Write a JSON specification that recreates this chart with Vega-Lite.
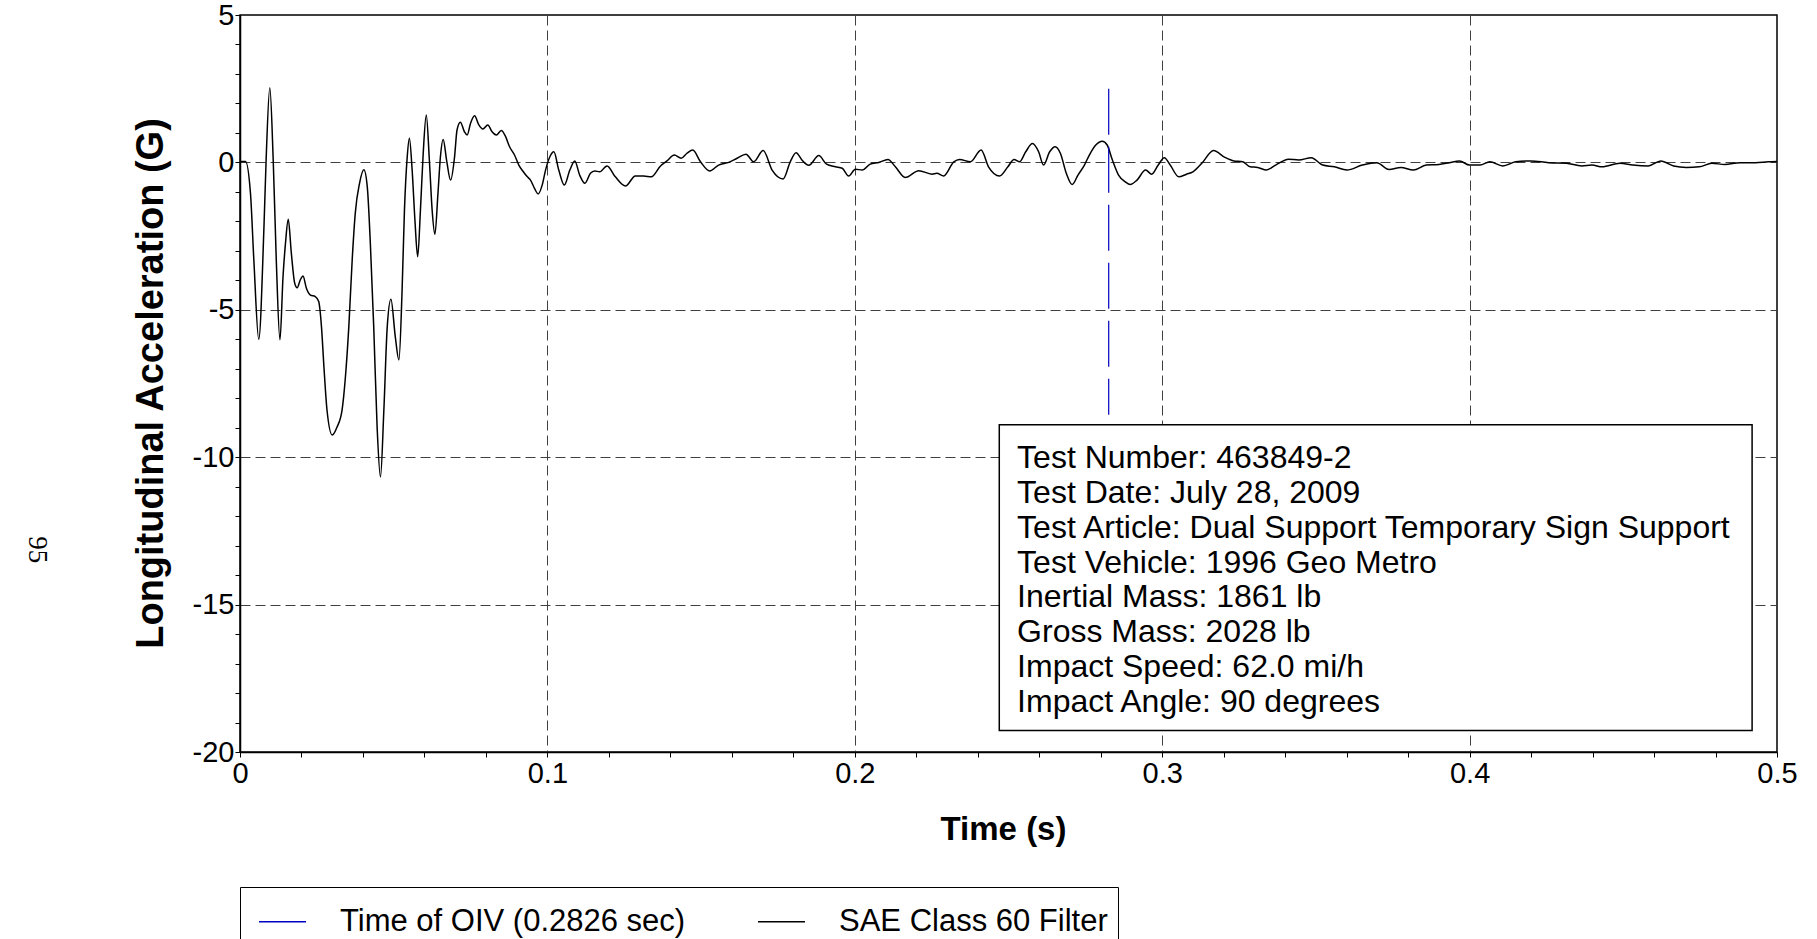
{
  "$schema": "https://vega.github.io/schema/vega-lite/v6.json",
  "width": 1537,
  "height": 737,
  "autosize": {"type": "none"},
  "padding": {"left": 240, "top": 15, "right": 40, "bottom": 187},
  "background": "white",
  "config": {
    "font": "Liberation Sans",
    "view": {"stroke": "black", "strokeWidth": 1.5},
    "axis": {"labelOverlap": false}
  },
  "datasets": {
    "accel": [
      {"t": 0, "g": 0.03}, {"t": 0.0018, "g": 0.03}, {"t": 0.0034, "g": -1.04}, {"t": 0.0045, "g": -3.3},
      {"t": 0.0061, "g": -6.0}, {"t": 0.0078, "g": -2.17}, {"t": 0.0085, "g": 0.09}, {"t": 0.0097, "g": 2.53},
      {"t": 0.0108, "g": 0.09}, {"t": 0.0118, "g": -3.3}, {"t": 0.013, "g": -6.02}, {"t": 0.014, "g": -3.87},
      {"t": 0.0148, "g": -2.74}, {"t": 0.0157, "g": -1.93}, {"t": 0.0167, "g": -3.08}, {"t": 0.0178, "g": -4.1},
      {"t": 0.0186, "g": -4.25}, {"t": 0.0196, "g": -3.99}, {"t": 0.0205, "g": -3.85}, {"t": 0.0216, "g": -4.27},
      {"t": 0.0229, "g": -4.5}, {"t": 0.0245, "g": -4.55}, {"t": 0.0256, "g": -4.72}, {"t": 0.0265, "g": -5.57},
      {"t": 0.0273, "g": -6.93}, {"t": 0.0283, "g": -8.4}, {"t": 0.03, "g": -9.25}, {"t": 0.0316, "g": -8.97},
      {"t": 0.0332, "g": -8.4}, {"t": 0.0343, "g": -7.27}, {"t": 0.0354, "g": -5.57}, {"t": 0.0365, "g": -3.3},
      {"t": 0.0375, "g": -1.72}, {"t": 0.0389, "g": -0.7}, {"t": 0.0403, "g": -0.25}, {"t": 0.0414, "g": -0.82},
      {"t": 0.0424, "g": -2.74}, {"t": 0.0435, "g": -5.57}, {"t": 0.0446, "g": -8.97}, {"t": 0.0457, "g": -10.67},
      {"t": 0.0468, "g": -8.4}, {"t": 0.0479, "g": -5.57}, {"t": 0.0491, "g": -4.64}, {"t": 0.0505, "g": -5.9},
      {"t": 0.0517, "g": -6.7}, {"t": 0.0527, "g": -4.44}, {"t": 0.0535, "g": -1.61}, {"t": 0.0544, "g": 0.19},
      {"t": 0.0551, "g": 0.82}, {"t": 0.056, "g": -0.26}, {"t": 0.0569, "g": -1.95}, {"t": 0.0578, "g": -3.2},
      {"t": 0.0587, "g": -1.61}, {"t": 0.0596, "g": 0.31}, {"t": 0.0606, "g": 1.61}, {"t": 0.0616, "g": 0.08},
      {"t": 0.0625, "g": -1.61}, {"t": 0.0634, "g": -2.44}, {"t": 0.0644, "g": -1.05}, {"t": 0.0652, "g": 0.19},
      {"t": 0.0661, "g": 0.78}, {"t": 0.0672, "g": 0.08}, {"t": 0.0685, "g": -0.6}, {"t": 0.0698, "g": 0.19},
      {"t": 0.0706, "g": 1.1}, {"t": 0.0717, "g": 1.36}, {"t": 0.073, "g": 1.04}, {"t": 0.0739, "g": 0.93},
      {"t": 0.075, "g": 1.33}, {"t": 0.0763, "g": 1.58}, {"t": 0.0777, "g": 1.27}, {"t": 0.079, "g": 1.13},
      {"t": 0.0806, "g": 1.27}, {"t": 0.082, "g": 1.04}, {"t": 0.0834, "g": 0.93}, {"t": 0.085, "g": 1.08},
      {"t": 0.0863, "g": 0.9}, {"t": 0.0877, "g": 0.53}, {"t": 0.0893, "g": 0.25}, {"t": 0.0907, "g": -0.09},
      {"t": 0.0921, "g": -0.31}, {"t": 0.0934, "g": -0.48}, {"t": 0.0945, "g": -0.6}, {"t": 0.0958, "g": -0.88},
      {"t": 0.097, "g": -1.07}, {"t": 0.0983, "g": -0.77}, {"t": 0.0994, "g": -0.26}, {"t": 0.1008, "g": 0.19},
      {"t": 0.1021, "g": 0.36}, {"t": 0.1037, "g": -0.26}, {"t": 0.1055, "g": -0.77}, {"t": 0.1073, "g": -0.26},
      {"t": 0.1089, "g": 0.05}, {"t": 0.1105, "g": -0.43}, {"t": 0.1122, "g": -0.71}, {"t": 0.114, "g": -0.37},
      {"t": 0.1154, "g": -0.29}, {"t": 0.117, "g": -0.32}, {"t": 0.1194, "g": -0.12}, {"t": 0.1221, "g": -0.49},
      {"t": 0.1254, "g": -0.8}, {"t": 0.1286, "g": -0.46}, {"t": 0.1313, "g": -0.46}, {"t": 0.1338, "g": -0.49},
      {"t": 0.1368, "g": -0.12}, {"t": 0.1389, "g": 0.05}, {"t": 0.1413, "g": 0.25}, {"t": 0.1435, "g": 0.14},
      {"t": 0.1454, "g": 0.31}, {"t": 0.1473, "g": 0.42}, {"t": 0.1498, "g": 0.02}, {"t": 0.1528, "g": -0.29},
      {"t": 0.1557, "g": -0.09}, {"t": 0.159, "g": 0}, {"t": 0.1617, "g": 0.14}, {"t": 0.1646, "g": 0.28},
      {"t": 0.1671, "g": 0.02}, {"t": 0.1702, "g": 0.4}, {"t": 0.1731, "g": -0.26}, {"t": 0.1767, "g": -0.56},
      {"t": 0.179, "g": 0.02}, {"t": 0.1809, "g": 0.33}, {"t": 0.1828, "g": 0.08}, {"t": 0.185, "g": -0.1},
      {"t": 0.1883, "g": 0.23}, {"t": 0.1908, "g": -0.06}, {"t": 0.1937, "g": -0.15}, {"t": 0.1959, "g": -0.2},
      {"t": 0.198, "g": -0.46}, {"t": 0.2002, "g": -0.23}, {"t": 0.2024, "g": -0.26}, {"t": 0.205, "g": -0.06},
      {"t": 0.2078, "g": 0}, {"t": 0.2108, "g": 0.1}, {"t": 0.2132, "g": -0.15}, {"t": 0.2164, "g": -0.51},
      {"t": 0.2208, "g": -0.28}, {"t": 0.2251, "g": -0.4}, {"t": 0.2267, "g": -0.37}, {"t": 0.2289, "g": -0.46},
      {"t": 0.2322, "g": 0.02}, {"t": 0.2341, "g": 0.1}, {"t": 0.2376, "g": 0.02}, {"t": 0.2411, "g": 0.42},
      {"t": 0.2435, "g": -0.15}, {"t": 0.2471, "g": -0.46}, {"t": 0.2498, "g": -0.15}, {"t": 0.2518, "g": 0.1},
      {"t": 0.2536, "g": 0.02}, {"t": 0.2556, "g": 0.36}, {"t": 0.2578, "g": 0.64}, {"t": 0.2598, "g": 0.36},
      {"t": 0.2614, "g": -0.09}, {"t": 0.2634, "g": 0.36}, {"t": 0.2652, "g": 0.53}, {"t": 0.2669, "g": 0.3},
      {"t": 0.2688, "g": -0.37}, {"t": 0.2707, "g": -0.75}, {"t": 0.2726, "g": -0.43}, {"t": 0.2747, "g": -0.09},
      {"t": 0.2763, "g": 0.25}, {"t": 0.2784, "g": 0.59}, {"t": 0.2805, "g": 0.72}, {"t": 0.2821, "g": 0.59},
      {"t": 0.2838, "g": 0.08}, {"t": 0.2858, "g": -0.43}, {"t": 0.288, "g": -0.66}, {"t": 0.2896, "g": -0.75},
      {"t": 0.2918, "g": -0.6}, {"t": 0.2946, "g": -0.26}, {"t": 0.2966, "g": -0.4}, {"t": 0.2987, "g": -0.09},
      {"t": 0.3007, "g": 0.16}, {"t": 0.3026, "g": -0.09}, {"t": 0.3054, "g": -0.49}, {"t": 0.3079, "g": -0.4},
      {"t": 0.31, "g": -0.32}, {"t": 0.3129, "g": -0.03}, {"t": 0.3167, "g": 0.4}, {"t": 0.3204, "g": 0.17},
      {"t": 0.3233, "g": 0.05}, {"t": 0.3262, "g": 0.02}, {"t": 0.3286, "g": -0.15}, {"t": 0.3311, "g": -0.17},
      {"t": 0.3339, "g": -0.26}, {"t": 0.3369, "g": -0.09}, {"t": 0.3411, "g": 0.11}, {"t": 0.3444, "g": 0.08},
      {"t": 0.3485, "g": 0.16}, {"t": 0.3522, "g": -0.09}, {"t": 0.356, "g": -0.15}, {"t": 0.3601, "g": -0.26},
      {"t": 0.3651, "g": -0.09}, {"t": 0.3698, "g": -0.01}, {"t": 0.3738, "g": -0.24}, {"t": 0.3776, "g": -0.17},
      {"t": 0.3817, "g": -0.26}, {"t": 0.3859, "g": -0.09}, {"t": 0.39, "g": -0.07}, {"t": 0.3934, "g": -0.01},
      {"t": 0.3967, "g": 0.05}, {"t": 0.4, "g": -0.09}, {"t": 0.4034, "g": -0.09}, {"t": 0.4066, "g": 0.02},
      {"t": 0.4108, "g": -0.12}, {"t": 0.415, "g": 0.02}, {"t": 0.4199, "g": 0.05}, {"t": 0.4257, "g": -0.01},
      {"t": 0.4315, "g": -0.03}, {"t": 0.4365, "g": -0.12}, {"t": 0.4398, "g": -0.09}, {"t": 0.4431, "g": -0.15},
      {"t": 0.4489, "g": -0.03}, {"t": 0.4531, "g": -0.09}, {"t": 0.4581, "g": -0.12}, {"t": 0.4622, "g": 0.05},
      {"t": 0.4664, "g": -0.12}, {"t": 0.4705, "g": -0.17}, {"t": 0.4747, "g": -0.15}, {"t": 0.4788, "g": -0.03},
      {"t": 0.483, "g": -0.07}, {"t": 0.488, "g": -0.01}, {"t": 0.493, "g": -0.01}, {"t": 0.4971, "g": 0.02},
      {"t": 0.5, "g": 0.03}
    ]
  },
  "layer": [
    {
      "data": {"name": "accel"},
      "mark": {"type": "line", "interpolate": "monotone", "strokeWidth": 1.5},
      "encoding": {
        "x": {
          "field": "t", "type": "quantitative",
          "scale": {"domain": [0, 0.5], "nice": false, "zero": false},
          "axis": {
            "title": "Time (s)",
            "titleFont": "Liberation Sans", "titleFontSize": 33, "titleFontWeight": "bold", "titleColor": "black",
            "titleX": 763, "titleY": 77, "titleBaseline": "middle", "titleAlign": "center",
            "values": [0, 0.02, 0.04, 0.06, 0.08, 0.1, 0.12, 0.14, 0.16, 0.18, 0.2, 0.22, 0.24, 0.26, 0.28, 0.3, 0.32, 0.34, 0.36, 0.38, 0.4, 0.42, 0.44, 0.46, 0.48, 0.5],
            "labelExpr": "abs(datum.value*10 - round(datum.value*10)) < 0.001 ? ('' + round(datum.value*10)/10) : ''",
            "labelFontSize": 29, "labelColor": "black", "labelPadding": 2, "labelFlush": false, "labelOverlap": false,
            "tickSize": 5, "tickColor": "black", "tickWidth": 1,
            "domainColor": "black", "domainWidth": 1.5,
            "grid": true, "gridColor": "#404040", "gridDash": [10, 5], "gridWidth": 1,
            "gridOpacity": {"condition": {"test": "abs(datum.value*10 - round(datum.value*10)) < 0.001 && datum.value > 0.01 && datum.value < 0.49", "value": 1}, "value": 0}
          }
        },
        "y": {
          "field": "g", "type": "quantitative",
          "scale": {"domain": [-20, 5], "nice": false, "zero": false},
          "axis": {
            "title": "Longitudinal Acceleration (G)",
            "titleFont": "Liberation Sans", "titleFontSize": 38, "titleFontWeight": "bold", "titleColor": "black",
            "titleX": -89, "titleY": 368, "titleAngle": -90, "titleBaseline": "middle", "titleAlign": "center",
            "values": [-20, -19, -18, -17, -16, -15, -14, -13, -12, -11, -10, -9, -8, -7, -6, -5, -4, -3, -2, -1, 0, 1, 2, 3, 4, 5],
            "labelExpr": "(datum.value == -20 || datum.value == -15 || datum.value == -10 || datum.value == -5 || datum.value == 0 || datum.value == 5) ? ('' + datum.value) : ''",
            "labelFontSize": 29, "labelColor": "black", "labelPadding": 1, "labelFlush": false, "labelOverlap": false,
            "tickSize": 5, "tickColor": "black", "tickWidth": 1,
            "domainColor": "black", "domainWidth": 1.5,
            "grid": true, "gridColor": "#404040", "gridDash": [10, 5], "gridWidth": 1,
            "gridOpacity": {"condition": {"test": "datum.value == -15 || datum.value == -10 || datum.value == -5 || datum.value == 0", "value": 1}, "value": 0}
          }
        },
        "color": {
          "datum": "SAE Class 60 Filter", "type": "nominal",
          "scale": {"domain": ["Time of OIV (0.2826 sec)", "SAE Class 60 Filter"], "range": ["#0000c0", "#000000"]},
          "legend": {
            "title": null, "orient": "none", "legendX": 0, "legendY": 872, "direction": "horizontal",
            "symbolType": "stroke", "symbolSize": 2209, "symbolStrokeWidth": 1.5, "symbolDash": [],
            "labelFont": "Liberation Sans", "labelFontSize": 31, "labelColor": "black", "labelLimit": 0,
            "labelOffset": 33, "columnPadding": 63, "padding": 10, "symbolOffset": 8,
            "strokeColor": "black", "fillColor": "white"
          }
        }
      }
    },
    {
      "data": {"values": [{}]},
      "mark": {"type": "rule", "strokeDash": [46, 12], "strokeWidth": 1.2},
      "encoding": {
        "x": {
          "datum": 0.2826, "type": "quantitative",
          "axis": {
            "title": "Time (s)",
            "titleFont": "Liberation Sans", "titleFontSize": 33, "titleFontWeight": "bold", "titleColor": "black",
            "titleX": 763, "titleY": 77, "titleBaseline": "middle", "titleAlign": "center",
            "values": [0, 0.02, 0.04, 0.06, 0.08, 0.1, 0.12, 0.14, 0.16, 0.18, 0.2, 0.22, 0.24, 0.26, 0.28, 0.3, 0.32, 0.34, 0.36, 0.38, 0.4, 0.42, 0.44, 0.46, 0.48, 0.5],
            "labelExpr": "abs(datum.value*10 - round(datum.value*10)) < 0.001 ? ('' + round(datum.value*10)/10) : ''",
            "labelFontSize": 29, "labelColor": "black", "labelPadding": 2, "labelFlush": false, "labelOverlap": false,
            "tickSize": 5, "tickColor": "black", "tickWidth": 1,
            "domainColor": "black", "domainWidth": 1.5,
            "grid": true, "gridColor": "#404040", "gridDash": [10, 5], "gridWidth": 1,
            "gridOpacity": {"condition": {"test": "abs(datum.value*10 - round(datum.value*10)) < 0.001 && datum.value > 0.01 && datum.value < 0.49", "value": 1}, "value": 0}
          }
        },
        "y": {
          "datum": 2.5, "type": "quantitative",
          "axis": {
            "title": "Longitudinal Acceleration (G)",
            "titleFont": "Liberation Sans", "titleFontSize": 38, "titleFontWeight": "bold", "titleColor": "black",
            "titleX": -89, "titleY": 368, "titleAngle": -90, "titleBaseline": "middle", "titleAlign": "center",
            "values": [-20, -19, -18, -17, -16, -15, -14, -13, -12, -11, -10, -9, -8, -7, -6, -5, -4, -3, -2, -1, 0, 1, 2, 3, 4, 5],
            "labelExpr": "(datum.value == -20 || datum.value == -15 || datum.value == -10 || datum.value == -5 || datum.value == 0 || datum.value == 5) ? ('' + datum.value) : ''",
            "labelFontSize": 29, "labelColor": "black", "labelPadding": 1, "labelFlush": false, "labelOverlap": false,
            "tickSize": 5, "tickColor": "black", "tickWidth": 1,
            "domainColor": "black", "domainWidth": 1.5,
            "grid": true, "gridColor": "#404040", "gridDash": [10, 5], "gridWidth": 1,
            "gridOpacity": {"condition": {"test": "datum.value == -15 || datum.value == -10 || datum.value == -5 || datum.value == 0", "value": 1}, "value": 0}
          }
        },
        "y2": {"datum": -8.56},
        "color": {"datum": "Time of OIV (0.2826 sec)", "type": "nominal"}
      }
    },
    {
      "data": {"values": [{}]},
      "mark": {"type": "rect", "fill": "white", "stroke": "black", "strokeWidth": 1.5},
      "encoding": {
        "x": {
          "datum": 0.247, "type": "quantitative",
          "axis": {
            "title": "Time (s)",
            "titleFont": "Liberation Sans", "titleFontSize": 33, "titleFontWeight": "bold", "titleColor": "black",
            "titleX": 763, "titleY": 77, "titleBaseline": "middle", "titleAlign": "center",
            "values": [0, 0.02, 0.04, 0.06, 0.08, 0.1, 0.12, 0.14, 0.16, 0.18, 0.2, 0.22, 0.24, 0.26, 0.28, 0.3, 0.32, 0.34, 0.36, 0.38, 0.4, 0.42, 0.44, 0.46, 0.48, 0.5],
            "labelExpr": "abs(datum.value*10 - round(datum.value*10)) < 0.001 ? ('' + round(datum.value*10)/10) : ''",
            "labelFontSize": 29, "labelColor": "black", "labelPadding": 2, "labelFlush": false, "labelOverlap": false,
            "tickSize": 5, "tickColor": "black", "tickWidth": 1,
            "domainColor": "black", "domainWidth": 1.5,
            "grid": true, "gridColor": "#404040", "gridDash": [10, 5], "gridWidth": 1,
            "gridOpacity": {"condition": {"test": "abs(datum.value*10 - round(datum.value*10)) < 0.001 && datum.value > 0.01 && datum.value < 0.49", "value": 1}, "value": 0}
          }
        },
        "x2": {"datum": 0.4919},
        "y": {
          "datum": -8.9, "type": "quantitative",
          "axis": {
            "title": "Longitudinal Acceleration (G)",
            "titleFont": "Liberation Sans", "titleFontSize": 38, "titleFontWeight": "bold", "titleColor": "black",
            "titleX": -89, "titleY": 368, "titleAngle": -90, "titleBaseline": "middle", "titleAlign": "center",
            "values": [-20, -19, -18, -17, -16, -15, -14, -13, -12, -11, -10, -9, -8, -7, -6, -5, -4, -3, -2, -1, 0, 1, 2, 3, 4, 5],
            "labelExpr": "(datum.value == -20 || datum.value == -15 || datum.value == -10 || datum.value == -5 || datum.value == 0 || datum.value == 5) ? ('' + datum.value) : ''",
            "labelFontSize": 29, "labelColor": "black", "labelPadding": 1, "labelFlush": false, "labelOverlap": false,
            "tickSize": 5, "tickColor": "black", "tickWidth": 1,
            "domainColor": "black", "domainWidth": 1.5,
            "grid": true, "gridColor": "#404040", "gridDash": [10, 5], "gridWidth": 1,
            "gridOpacity": {"condition": {"test": "datum.value == -15 || datum.value == -10 || datum.value == -5 || datum.value == 0", "value": 1}, "value": 0}
          }
        },
        "y2": {"datum": -19.27}
      }
    },
    {
      "data": {"values": [{}]},
      "mark": {
        "type": "text", "align": "left", "baseline": "alphabetic", "font": "Liberation Sans",
        "fontSize": 32, "lineHeight": 34.9, "color": "black",
        "text": ["Test Number: 463849-2", "Test Date: July 28, 2009", "Test Article: Dual Support Temporary Sign Support", "Test Vehicle: 1996 Geo Metro", "Inertial Mass: 1861 lb", "Gross Mass: 2028 lb", "Impact Speed: 62.0 mi/h", "Impact Angle: 90 degrees"]
      },
      "encoding": {
        "x": {
          "datum": 0.2528, "type": "quantitative",
          "axis": {
            "title": "Time (s)",
            "titleFont": "Liberation Sans", "titleFontSize": 33, "titleFontWeight": "bold", "titleColor": "black",
            "titleX": 763, "titleY": 77, "titleBaseline": "middle", "titleAlign": "center",
            "values": [0, 0.02, 0.04, 0.06, 0.08, 0.1, 0.12, 0.14, 0.16, 0.18, 0.2, 0.22, 0.24, 0.26, 0.28, 0.3, 0.32, 0.34, 0.36, 0.38, 0.4, 0.42, 0.44, 0.46, 0.48, 0.5],
            "labelExpr": "abs(datum.value*10 - round(datum.value*10)) < 0.001 ? ('' + round(datum.value*10)/10) : ''",
            "labelFontSize": 29, "labelColor": "black", "labelPadding": 2, "labelFlush": false, "labelOverlap": false,
            "tickSize": 5, "tickColor": "black", "tickWidth": 1,
            "domainColor": "black", "domainWidth": 1.5,
            "grid": true, "gridColor": "#404040", "gridDash": [10, 5], "gridWidth": 1,
            "gridOpacity": {"condition": {"test": "abs(datum.value*10 - round(datum.value*10)) < 0.001 && datum.value > 0.01 && datum.value < 0.49", "value": 1}, "value": 0}
          }
        },
        "y": {
          "datum": -10.36, "type": "quantitative",
          "axis": {
            "title": "Longitudinal Acceleration (G)",
            "titleFont": "Liberation Sans", "titleFontSize": 38, "titleFontWeight": "bold", "titleColor": "black",
            "titleX": -89, "titleY": 368, "titleAngle": -90, "titleBaseline": "middle", "titleAlign": "center",
            "values": [-20, -19, -18, -17, -16, -15, -14, -13, -12, -11, -10, -9, -8, -7, -6, -5, -4, -3, -2, -1, 0, 1, 2, 3, 4, 5],
            "labelExpr": "(datum.value == -20 || datum.value == -15 || datum.value == -10 || datum.value == -5 || datum.value == 0 || datum.value == 5) ? ('' + datum.value) : ''",
            "labelFontSize": 29, "labelColor": "black", "labelPadding": 1, "labelFlush": false, "labelOverlap": false,
            "tickSize": 5, "tickColor": "black", "tickWidth": 1,
            "domainColor": "black", "domainWidth": 1.5,
            "grid": true, "gridColor": "#404040", "gridDash": [10, 5], "gridWidth": 1,
            "gridOpacity": {"condition": {"test": "datum.value == -15 || datum.value == -10 || datum.value == -5 || datum.value == 0", "value": 1}, "value": 0}
          }
        }
      }
    },
    {
      "data": {"values": [{}]},
      "mark": {"type": "text", "align": "center", "baseline": "middle", "font": "Liberation Serif", "fontSize": 27, "angle": 90, "color": "black", "text": "95"},
      "encoding": {
        "x": {
          "datum": -0.0659, "type": "quantitative",
          "axis": {
            "title": "Time (s)",
            "titleFont": "Liberation Sans", "titleFontSize": 33, "titleFontWeight": "bold", "titleColor": "black",
            "titleX": 763, "titleY": 77, "titleBaseline": "middle", "titleAlign": "center",
            "values": [0, 0.02, 0.04, 0.06, 0.08, 0.1, 0.12, 0.14, 0.16, 0.18, 0.2, 0.22, 0.24, 0.26, 0.28, 0.3, 0.32, 0.34, 0.36, 0.38, 0.4, 0.42, 0.44, 0.46, 0.48, 0.5],
            "labelExpr": "abs(datum.value*10 - round(datum.value*10)) < 0.001 ? ('' + round(datum.value*10)/10) : ''",
            "labelFontSize": 29, "labelColor": "black", "labelPadding": 2, "labelFlush": false, "labelOverlap": false,
            "tickSize": 5, "tickColor": "black", "tickWidth": 1,
            "domainColor": "black", "domainWidth": 1.5,
            "grid": true, "gridColor": "#404040", "gridDash": [10, 5], "gridWidth": 1,
            "gridOpacity": {"condition": {"test": "abs(datum.value*10 - round(datum.value*10)) < 0.001 && datum.value > 0.01 && datum.value < 0.49", "value": 1}, "value": 0}
          }
        },
        "y": {
          "datum": -13.14, "type": "quantitative",
          "axis": {
            "title": "Longitudinal Acceleration (G)",
            "titleFont": "Liberation Sans", "titleFontSize": 38, "titleFontWeight": "bold", "titleColor": "black",
            "titleX": -89, "titleY": 368, "titleAngle": -90, "titleBaseline": "middle", "titleAlign": "center",
            "values": [-20, -19, -18, -17, -16, -15, -14, -13, -12, -11, -10, -9, -8, -7, -6, -5, -4, -3, -2, -1, 0, 1, 2, 3, 4, 5],
            "labelExpr": "(datum.value == -20 || datum.value == -15 || datum.value == -10 || datum.value == -5 || datum.value == 0 || datum.value == 5) ? ('' + datum.value) : ''",
            "labelFontSize": 29, "labelColor": "black", "labelPadding": 1, "labelFlush": false, "labelOverlap": false,
            "tickSize": 5, "tickColor": "black", "tickWidth": 1,
            "domainColor": "black", "domainWidth": 1.5,
            "grid": true, "gridColor": "#404040", "gridDash": [10, 5], "gridWidth": 1,
            "gridOpacity": {"condition": {"test": "datum.value == -15 || datum.value == -10 || datum.value == -5 || datum.value == 0", "value": 1}, "value": 0}
          }
        }
      }
    }
  ]
}
